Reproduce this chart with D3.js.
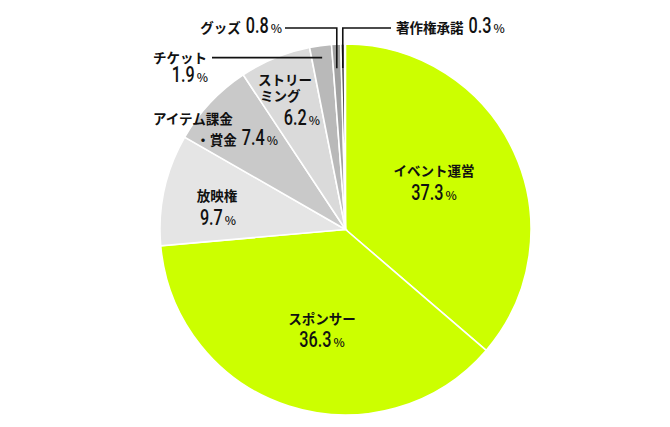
<!DOCTYPE html>
<html lang="ja">
<head>
	<meta charset="UTF-8">
	<title>Revenue share</title>
	<script src="https://cdn.jsdelivr.net/npm/d3@7/dist/d3.min.js"></script>
	<style>
		body { margin: 0; background: #fff; }
		.jp { font-family: "Noto Sans CJK JP", sans-serif; font-weight: 700; font-size: 13.5px; fill: #111; }
		.num { font-family: Roboto, "DejaVu Sans", sans-serif; font-weight: 500; font-size: 22.5px; fill: #111; }
		.pct { font-family: "Noto Sans CJK JP", sans-serif; font-weight: 500; font-size: 12px; fill: #111; }
	</style>
</head>
<body>
	<div id="container"></div>
	<script>
		// slices clockwise from 12 o'clock
		var names = ["イベント運営", "スポンサー", "放映権", "アイテム課金・賞金", "ストリーミング", "チケット", "グッズ", "著作権承諾"];
		// share of the circle as drawn (%)
		var shares = [36.3, 37.3, 9.7, 7.4, 6.2, 1.9, 0.8, 0.3];
		// percentage printed next to each slice
		var pctText = ["37.3", "36.3", "9.7", "7.4", "6.2", "1.9", "0.8", "0.3"];
		var colors = ["#ccff00", "#ccff00", "#e5e5e5", "#c9c9c9", "#dadada", "#b9b9b9", "#a2a2a2", "#333333"];

		var width = 670, height = 427;
		var cx = 345.5, cy = 229.5, r = 185.5;
		var squeeze = 0.72; // condensed digits

		var svg = d3.select("#container").append("svg")
				.attr("width", width)
				.attr("height", height);

		var g = svg.append("g").attr("transform", "translate(" + cx + "," + cy + ")");

		var total = d3.sum(shares);
		var pie = d3.pie().sort(null).endAngle(2 * Math.PI * total / 100);
		var arcs = pie(shares);
		var arc = d3.arc().innerRadius(0).outerRadius(r);

		g.selectAll(".slice").data(arcs)
			.enter().append("path")
				.attr("class", "slice")
				.attr("d", arc)
				.attr("fill", (d, i) => colors[i])
				.attr("stroke", "#fff")
				.attr("stroke-width", 1.6);

		// leader lines for the thin slices
		var lead = d3.arc().innerRadius(r * 0.935).outerRadius(r * 0.935);
		var lineY = 28;
		var pTicket = lead.centroid(arcs[5]).map((v, k) => v + (k ? cy : cx));
		var pGoods = lead.centroid(arcs[6]).map((v, k) => v + (k ? cy : cx));
		var pCopy = lead.centroid(arcs[7]).map((v, k) => v + (k ? cy : cx));

		var line = d3.line();
		function leader(pts) {
			svg.append("path")
				.attr("d", line(pts))
				.attr("fill", "none").attr("stroke", "#111").attr("stroke-width", 1.6);
		}
		leader([[212, pTicket[1]], pTicket]);
		leader([[285, lineY], [pGoods[0], lineY], [pGoods[0], pGoods[1] + 12]]);
		leader([[pCopy[0], pCopy[1] + 12], [pCopy[0], lineY], [391, lineY]]);

		// one line of text built from parts, placed one after another
		function textLine(x, y, parts, anchor) {
			var grp = svg.append("g");
			var cur = 0;
			parts.forEach(function(p) {
				var t = grp.append("text").attr("class", p[1]).text(p[0]);
				var w = t.node().getComputedTextLength();
				if (p[1] === "num") {
					t.attr("transform", "translate(" + cur + ",0) scale(" + squeeze + ",1)");
					w *= squeeze;
				} else {
					t.attr("x", cur);
				}
				cur += w + (p[2] || 0);
			});
			var off = anchor === "middle" ? -cur / 2 : anchor === "end" ? -cur : 0;
			grp.attr("transform", "translate(" + (x + off) + "," + y + ")");
		}
		function num(i) {
			return [[pctText[i], "num", 2], ["%", "pct"]];
		}

		textLine(434, 176, [[names[0], "jp"]], "middle");
		textLine(434, 199.5, num(0), "middle");
		textLine(322, 324, [[names[1], "jp"]], "middle");
		textLine(322, 347, num(1), "middle");
		textLine(217, 201, [[names[2], "jp"]], "middle");
		textLine(218, 225, num(2), "middle");
		textLine(153, 124, [["アイテム課金", "jp"]], "start");
		textLine(278, 145, [["・賞金", "jp", 5]].concat(num(3)), "end");
		textLine(258, 85, [["ストリー", "jp"]], "start");
		textLine(260, 101, [["ミング", "jp"]], "start");
		textLine(320, 125, num(4), "end");
		textLine(207, 63, [[names[5], "jp"]], "end");
		textLine(208, 82, num(5), "end");
		textLine(282, 33, [[names[6], "jp", 5]].concat(num(6)), "end");
		textLine(396, 33, [[names[7], "jp", 5]].concat(num(7)), "start");
	</script>
</body>
</html>
